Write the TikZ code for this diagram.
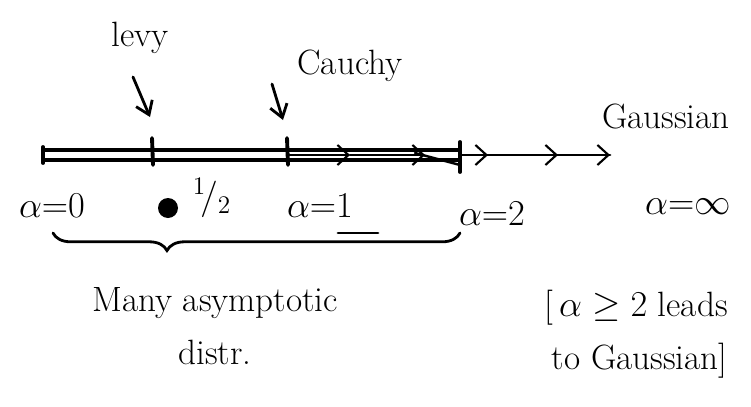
\documentclass[tikz,border=0pt]{standalone}
\usepackage{amsmath,amssymb}
\usepackage{tikz}
\usetikzlibrary{arrows.meta, decorations.pathreplacing, calc}

\begin{document}
\begin{tikzpicture}[x=0.02cm, y=-0.02cm,
        pen/.style={line width=1.6pt, line cap=round, color=black},
        tick/.style={pen, line width=2.2pt},
        pointer/.style={pen, -{Straight Barb[length=2.5mm, width=3.5mm]}},
        chevron/.style={pen, line width=1.2pt, -{Straight Barb[length=2.2mm, width=4mm]}},
        lbl/.style={font=\fontsize{20}{30}\selectfont, inner sep=0pt}
    ]
        \useasboundingbox (0,0) rectangle (751,406);

        % the axis
        \coordinate (a0) at (43,155);
        \coordinate (t1) at (152,155);
        \coordinate (t2) at (287,155);
        \coordinate (a2) at (460,155);
        \coordinate (c1) at (350,155);
        \coordinate (c2) at (425,155);
        \coordinate (g1) at (488,155);
        \coordinate (g2) at (558,155);
        \coordinate (g3) at (610,155);
        \draw[pen, line width=2pt] ($(a0)+(0,-5)$) -- ($(a2)+(0,-5)$);
        \draw[pen, line width=2pt] ($(a0)+(0,5)$) -- ($(a2)+(0,5)$);
        \draw[pen, line width=1.4pt] ($(c2)+(-10,-2)$) -- ($(a2)+(0,10)$);
        \draw[pen] (a2) -- (g3);
        \draw[chevron] (t2) -- (c1);
        \draw[chevron] (c1) -- (c2);
        \draw[chevron] (a2) -- (g1);
        \draw[chevron] (g1) -- (g2);
        \draw[chevron] (g2) -- (g3);

        % ticks
        \draw[tick] ($(a0)+(0,-8)$) -- ($(a0)+(0,8)$);
        \draw[tick] ($(t1)+(0,-17)$) -- ($(t1)+(1,10)$);
        \draw[tick] ($(t2)+(0,-17)$) -- ($(t2)+(1,10)$);
        \draw[tick] ($(a2)+(0,-13)$) -- ($(a2)+(0,17)$);

        % names above
        \node[lbl] (levy) at (140,38) {levy};
        \node[lbl] (cauchy) at (350,66) {Cauchy};
        \node[lbl] (gauss) at (666,116) {Gaussian};
        \draw[pointer] ($(t1)+(-19,-78)$) -- ($(t1)+(-2,-38)$);
        \draw[pointer] ($(t2)+(-15,-71)$) -- ($(t2)+(-4,-35)$);

        % values below
        \node[lbl] (v0) at (52,206) {$\alpha{=}0$};
        \fill (168,208) circle[radius=10];
        \node[lbl] (vhalf) at (212,198) {$^1\!/_2$};
        \node[lbl] (v1) at (320,206) {$\alpha{=}1$};
        \draw[pen] (338,233) -- (378,233);
        \node[lbl] (v2) at (492,214) {$\alpha{=}2$};
        \node[lbl] (vinf) at (688,207) {$\alpha{=}\infty$};

        % brace and notes
        \draw[pen, decorate, decoration={brace, mirror, amplitude=10pt, aspect=0.28}] (53,233) -- (460,233);
        \node[lbl, align=center] (many) at (215,326) {Many asymptotic\\distr.};
        \node[lbl, align=right, anchor=north east] (note) at (728,290) {[\,$\alpha\geq2$ leads\\to Gaussian]};
    \end{tikzpicture}
\end{document}
